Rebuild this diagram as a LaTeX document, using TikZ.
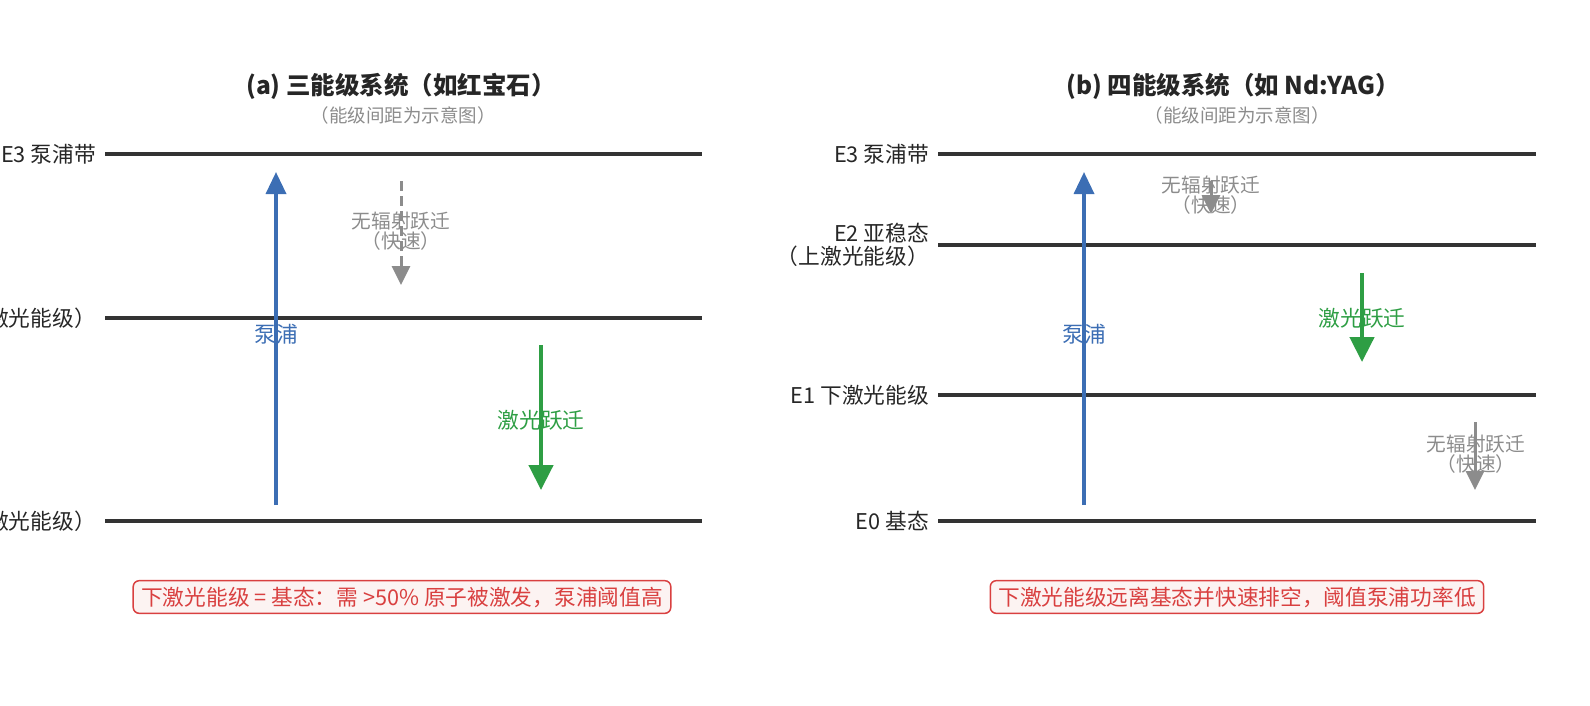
\documentclass[tikz,border=0pt]{standalone}
\usepackage{fontspec}
\setmainfont{Noto Sans CJK SC}
\usetikzlibrary{arrows.meta}
\usetikzlibrary{positioning}

\definecolor{levelgray}{HTML}{333333}
\definecolor{pumpblue}{HTML}{3C6EB4}
\definecolor{lasergreen}{HTML}{2E9E44}
\definecolor{fastgray}{HTML}{8C8C8C}
\definecolor{notered}{HTML}{D94040}
\definecolor{notefill}{HTML}{FCF3F2}

\begin{document}
\begin{tikzpicture}
 [ x=1pt, y=-1pt
 , level/.style={line width=4pt, levelgray}
 , level label/.style={anchor=east, inner sep=0pt, xshift=-9pt, text=black!85, font=\fontsize{21.7}{23.5}\selectfont, align=right}
 , pump/.style={line width=3.5pt, pumpblue, -{Triangle[width=20pt, length=22pt]}}
 , laser/.style={line width=4.5pt, lasergreen, -{Triangle[width=24pt, length=25pt]}}
 , nonrad/.style={line width=3pt, fastgray, dash pattern=on 10pt off 5pt, -{Triangle[width=18pt, length=19pt]}}
 , arrow label/.style={inner sep=0pt, font=\fontsize{21.7}{24}\selectfont}
 , fast label/.style={inner sep=0pt, align=center, text=fastgray, font=\fontsize{19.7}{20}\selectfont}
 , title/.style={inner sep=0pt, font=\bfseries\fontsize{24.5}{27}\selectfont, text=black!85}
 , subtitle/.style={inner sep=0pt, text=fastgray, font=\fontsize{18.5}{20}\selectfont}
 , note/.style={draw=notered, fill=notefill, line width=1.5pt, rounded corners=6pt, text=notered, inner xsep=8pt, inner ysep=6pt, font=\fontsize{21.7}{24}\selectfont}
 ]
  \useasboundingbox (0,0) rectangle (1590,705);

  % (a) three-level system
  \node [title] (titleA) at (401,86) {(a) 三能级系统（如红宝石）};
  \node [subtitle] (subA) at (403,115) {（能级间距为示意图）};

  \coordinate (a3L) at (105,154); \coordinate (a3R) at (702,154);
  \coordinate (a2L) at (105,318); \coordinate (a2R) at (702,318);
  \coordinate (a1L) at (105,521); \coordinate (a1R) at (702,521);
  \draw [level] (a3L) -- (a3R);
  \draw [level] (a2L) -- (a2R);
  \draw [level] (a1L) -- (a1R);
  \node [level label] (labA3) at (a3L) {E3 泵浦带};
  \node [level label] (labA2) at (a2L) {E2 亚稳态（上激光能级）};
  \node [level label] (labA1) at (a1L) {E1 基态（下激光能级）};

  \coordinate (pumpA0) at (276,505); \coordinate (pumpA1) at (276,172);
  \draw [pump] (pumpA0) -- (pumpA1);
  \node [arrow label, text=pumpblue] (pumpAtxt) at (276,334) {泵浦};

  \coordinate (fastA0) at (401,181); \coordinate (fastA1) at (401,285);
  \draw [nonrad] (fastA0) -- (fastA1);
  \node [fast label] (fastAtxt) at (401,231) {无辐射跃迁\\（快速）};

  \coordinate (laserA0) at (541,345); \coordinate (laserA1) at (541,490);
  \draw [laser] (laserA0) -- (laserA1);
  \node [arrow label, text=lasergreen] (laserAtxt) at (541,420) {激光跃迁};

  \node [note] (noteA) at (402,597) {下激光能级 = 基态：需 >50\% 原子被激发，泵浦阈值高};

  % (b) four-level system
  \node [title] (titleB) at (1233,86) {(b) 四能级系统（如 Nd:YAG）};
  \node [subtitle] (subB) at (1237,115) {（能级间距为示意图）};

  \coordinate (b3L) at (938,154); \coordinate (b3R) at (1536,154);
  \coordinate (b2L) at (938,245); \coordinate (b2R) at (1536,245);
  \coordinate (b1L) at (938,395); \coordinate (b1R) at (1536,395);
  \coordinate (b0L) at (938,521); \coordinate (b0R) at (1536,521);
  \draw [level] (b3L) -- (b3R);
  \draw [level] (b2L) -- (b2R);
  \draw [level] (b1L) -- (b1R);
  \draw [level] (b0L) -- (b0R);
  \node [level label] (labB3) at (b3L) {E3 泵浦带};
  \node [level label] (labB2) at (b2L) {E2 亚稳态\\（上激光能级）};
  \node [level label] (labB1) at (b1L) {E1 下激光能级};
  \node [level label] (labB0) at (b0L) {E0 基态};

  \coordinate (pumpB0) at (1084,505); \coordinate (pumpB1) at (1084,172);
  \draw [pump] (pumpB0) -- (pumpB1);
  \node [arrow label, text=pumpblue] (pumpBtxt) at (1084,334) {泵浦};

  \coordinate (fastB0) at (1211,181); \coordinate (fastB1) at (1211,214);
  \draw [nonrad, solid] (fastB0) -- (fastB1);
  \node [fast label] (fastBtxt) at (1211,195) {无辐射跃迁\\（快速）};

  \coordinate (laserB0) at (1362,273); \coordinate (laserB1) at (1362,362);
  \draw [laser] (laserB0) -- (laserB1);
  \node [arrow label, text=lasergreen] (laserBtxt) at (1362,318) {激光跃迁};

  \coordinate (fastC0) at (1475,422); \coordinate (fastC1) at (1475,490);
  \draw [nonrad, solid] (fastC0) -- (fastC1);
  \node [fast label] (fastCtxt) at (1476,454) {无辐射跃迁\\（快速）};

  \node [note] (noteB) at (1237,597) {下激光能级远离基态并快速排空，阈值泵浦功率低};
\end{tikzpicture}
\end{document}
